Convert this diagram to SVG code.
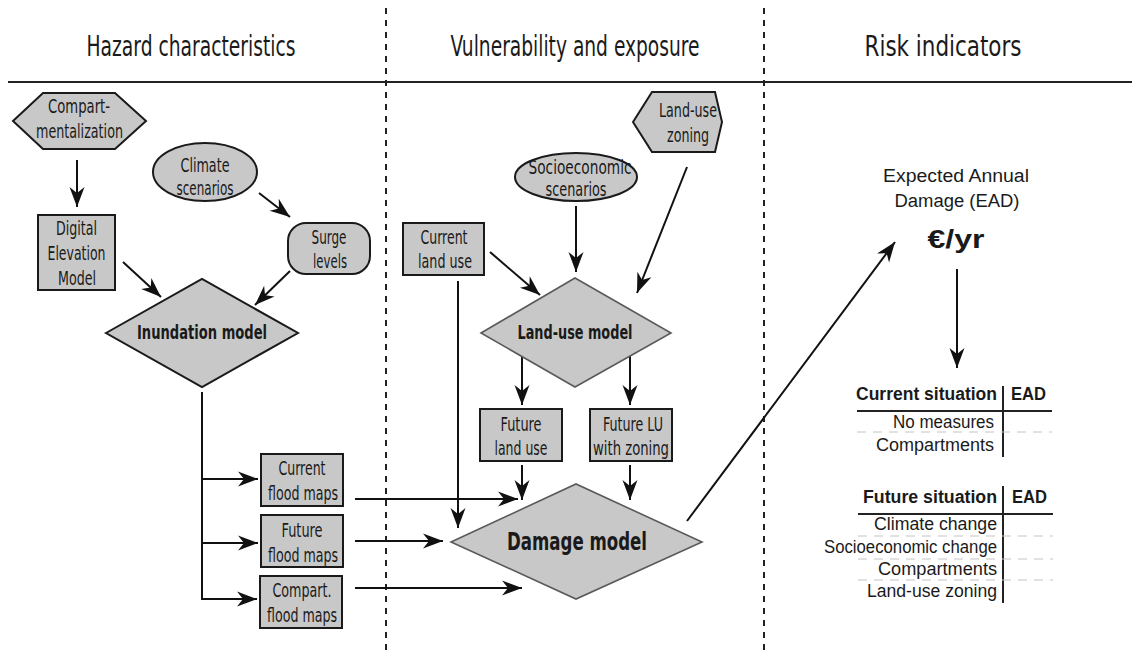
<svg xmlns="http://www.w3.org/2000/svg" width="1132" height="655" viewBox="0 0 1132 655">
<style>
.bg{fill:#ffffff}
.node{fill:#c8c8c8;stroke:#1a1a1a;stroke-width:2}
.dia{fill:#c8c8c8;stroke:#1a1a1a;stroke-width:2}
.dia2{fill:#c8c8c8;stroke:#5a5a5a;stroke-width:1.6}
.lbl{font-family:"Liberation Sans Narrow","DejaVu Sans Condensed","Liberation Sans",sans-serif;font-size:20px;fill:#1a1a1a;text-anchor:middle}
.bold{font-weight:bold}
.hdr{font-family:"Liberation Sans Narrow","DejaVu Sans Condensed","Liberation Sans",sans-serif;font-size:29px;fill:#1a1a1a;text-anchor:middle}
.reg{font-family:"Liberation Sans","Noto Sans",sans-serif;font-size:17.5px;fill:#1a1a1a}
.conn{stroke:#111;stroke-width:2;fill:none;marker-end:url(#ah)}
.plain{stroke:#111;stroke-width:2;fill:none}
.sep{stroke:#222;stroke-width:2;stroke-dasharray:6 6;fill:none}
.rule{stroke:#222;stroke-width:2;fill:none}
.tdash{stroke:#c4c4c4;stroke-width:1;stroke-dasharray:9 7;fill:none}
</style>
<defs>
<marker id="ah" markerUnits="userSpaceOnUse" markerWidth="22" markerHeight="16" refX="20" refY="7.5" orient="auto" overflow="visible">
<path d="M0,0 L20,7.5 L0,15 L6,7.5 Z" fill="#111"/>
</marker>
</defs>
<rect class="bg" x="0" y="0" width="1132" height="655"/>

<g id="layout">
<line class="rule" x1="8" y1="82" x2="1132" y2="82"/>
<line class="sep" x1="386" y1="8" x2="386" y2="655"/>
<line class="sep" x1="764" y1="8" x2="764" y2="655"/>
<text class="hdr" x="191" y="56" textLength="209" lengthAdjust="spacingAndGlyphs">Hazard characteristics</text>
<text class="hdr" x="575" y="56" textLength="249" lengthAdjust="spacingAndGlyphs">Vulnerability and exposure</text>
<text class="hdr" x="943" y="56" textLength="157" lengthAdjust="spacingAndGlyphs">Risk indicators</text>
</g>

<g id="connectors">
<line class="conn" x1="77" y1="160" x2="77" y2="207"/>
<line class="conn" x1="259" y1="193" x2="290" y2="217"/>
<line class="conn" x1="123" y1="262" x2="161" y2="297"/>
<line class="conn" x1="290" y1="271" x2="255" y2="305"/>
<line class="plain" x1="202" y1="392" x2="202" y2="600"/>
<line class="conn" x1="202" y1="479" x2="258" y2="479"/>
<line class="conn" x1="202" y1="543" x2="258" y2="543"/>
<line class="conn" x1="202" y1="599" x2="257" y2="599"/>
<line class="conn" x1="355" y1="499" x2="518" y2="499"/>
<line class="conn" x1="355" y1="541" x2="443" y2="541"/>
<line class="conn" x1="355" y1="588" x2="522" y2="588"/>
<line class="conn" x1="458" y1="281" x2="458" y2="528"/>
<line class="conn" x1="490" y1="252" x2="540" y2="295"/>
<line class="conn" x1="576" y1="206" x2="576" y2="272"/>
<line class="conn" x1="687" y1="167" x2="637" y2="293"/>
<line class="conn" x1="522" y1="355" x2="522" y2="405"/>
<line class="conn" x1="630" y1="355" x2="630" y2="405"/>
<line class="conn" x1="522" y1="465" x2="522" y2="500"/>
<line class="conn" x1="630" y1="465" x2="630" y2="500"/>
<line class="conn" x1="687" y1="521" x2="895" y2="242"/>
<line class="conn" x1="957" y1="269" x2="957" y2="368"/>
</g>

<g id="compartmentalization">
<polygon class="node" points="13,121 43,93 115,93 146,121 115,149 43,149"/>
<text class="lbl" x="79" y="113" textLength="62" lengthAdjust="spacingAndGlyphs">Compart-</text>
<text class="lbl" x="79.5" y="138" textLength="87" lengthAdjust="spacingAndGlyphs">mentalization</text>
</g>

<g id="climate-scenarios">
<ellipse class="node" cx="205" cy="172" rx="52" ry="29"/>
<text class="lbl" x="205" y="172" textLength="49" lengthAdjust="spacingAndGlyphs">Climate</text>
<text class="lbl" x="205" y="195" textLength="57" lengthAdjust="spacingAndGlyphs">scenarios</text>
</g>

<g id="dem">
<rect class="node" x="38" y="215" width="77" height="75"/>
<text class="lbl" x="76.5" y="235" textLength="41" lengthAdjust="spacingAndGlyphs">Digital</text>
<text class="lbl" x="76.5" y="260" textLength="58" lengthAdjust="spacingAndGlyphs">Elevation</text>
<text class="lbl" x="77" y="285" textLength="38" lengthAdjust="spacingAndGlyphs">Model</text>
</g>

<g id="surge-levels">
<rect class="node" x="288" y="223" width="82" height="51" rx="18" ry="18"/>
<text class="lbl" x="329" y="244" textLength="35" lengthAdjust="spacingAndGlyphs">Surge</text>
<text class="lbl" x="330" y="268" textLength="34" lengthAdjust="spacingAndGlyphs">levels</text>
</g>

<g id="inundation-model">
<polygon class="dia" points="106,333 202,279 298,333 202,387"/>
<text class="lbl bold" x="202" y="339" textLength="130" lengthAdjust="spacingAndGlyphs">Inundation model</text>
</g>

<g id="current-flood-maps">
<rect class="node" x="261" y="454" width="82" height="52"/>
<text class="lbl" x="302" y="475" textLength="47" lengthAdjust="spacingAndGlyphs">Current</text>
<text class="lbl" x="303" y="500" textLength="70" lengthAdjust="spacingAndGlyphs">flood maps</text>
</g>

<g id="future-flood-maps">
<rect class="node" x="261" y="515" width="82" height="52"/>
<text class="lbl" x="302" y="537" textLength="41" lengthAdjust="spacingAndGlyphs">Future</text>
<text class="lbl" x="303" y="562" textLength="70" lengthAdjust="spacingAndGlyphs">flood maps</text>
</g>

<g id="compart-flood-maps">
<rect class="node" x="260" y="576" width="82" height="52"/>
<text class="lbl" x="302" y="597" textLength="59" lengthAdjust="spacingAndGlyphs">Compart.</text>
<text class="lbl" x="302" y="622" textLength="70" lengthAdjust="spacingAndGlyphs">flood maps</text>
</g>

<g id="current-land-use">
<rect class="node" x="403" y="223" width="81" height="52"/>
<text class="lbl" x="444" y="244" textLength="47" lengthAdjust="spacingAndGlyphs">Current</text>
<text class="lbl" x="445" y="268" textLength="54" lengthAdjust="spacingAndGlyphs">land use</text>
</g>

<g id="socioeconomic-scenarios">
<ellipse class="node" cx="576" cy="177" rx="61" ry="24"/>
<text class="lbl" x="580" y="174" textLength="103" lengthAdjust="spacingAndGlyphs">Socioeconomic</text>
<text class="lbl" x="576" y="196" textLength="61" lengthAdjust="spacingAndGlyphs">scenarios</text>
</g>

<g id="land-use-zoning">
<polygon class="node" points="633,122 652,92 715,92 722,122 715,152 652,152"/>
<text class="lbl" x="688" y="117" textLength="58" lengthAdjust="spacingAndGlyphs">Land-use</text>
<text class="lbl" x="688" y="142" textLength="42" lengthAdjust="spacingAndGlyphs">zoning</text>
</g>

<g id="land-use-model">
<polygon class="dia2" points="481,333 575,278 671,333 575,387"/>
<text class="lbl bold" x="575" y="339" textLength="115" lengthAdjust="spacingAndGlyphs">Land-use model</text>
</g>

<g id="future-land-use">
<rect class="node" x="480" y="409" width="82" height="52"/>
<text class="lbl" x="521" y="431" textLength="41" lengthAdjust="spacingAndGlyphs">Future</text>
<text class="lbl" x="521" y="455" textLength="53" lengthAdjust="spacingAndGlyphs">land use</text>
</g>

<g id="future-lu-zoning">
<rect class="node" x="590" y="409" width="82" height="52"/>
<text class="lbl" x="633" y="431" textLength="60" lengthAdjust="spacingAndGlyphs">Future LU</text>
<text class="lbl" x="631" y="455" textLength="76" lengthAdjust="spacingAndGlyphs">with zoning</text>
</g>

<g id="damage-model">
<polygon class="dia2" points="451,542 576,484 702,542 576,599"/>
<text class="lbl bold" x="577" y="550" style="font-size:25px" textLength="140" lengthAdjust="spacingAndGlyphs">Damage model</text>
</g>

<g id="ead">
<text class="reg" x="956" y="182" text-anchor="middle" style="font-size:18px" textLength="146" lengthAdjust="spacingAndGlyphs">Expected Annual</text>
<text class="reg" x="957" y="207" text-anchor="middle" style="font-size:18px" textLength="125" lengthAdjust="spacingAndGlyphs">Damage (EAD)</text>
<text class="reg bold" x="956" y="248" text-anchor="middle" style="font-size:26px" textLength="57" lengthAdjust="spacingAndGlyphs">€/yr</text>
</g>

<g id="current-table">
<line class="rule" x1="1003" y1="386" x2="1003" y2="457"/>
<line class="rule" x1="857" y1="411" x2="1052" y2="411"/>
<line class="tdash" x1="857" y1="432" x2="1052" y2="432"/>
<text class="reg bold" x="997" y="400" text-anchor="end" textLength="141" lengthAdjust="spacingAndGlyphs">Current situation</text>
<text class="reg bold" x="1011" y="400" textLength="35" lengthAdjust="spacingAndGlyphs">EAD</text>
<text class="reg" x="994" y="428" text-anchor="end" textLength="101" lengthAdjust="spacingAndGlyphs">No measures</text>
<text class="reg" x="994" y="451" text-anchor="end" textLength="118" lengthAdjust="spacingAndGlyphs">Compartments</text>
</g>

<g id="future-table">
<line class="rule" x1="1003" y1="486" x2="1003" y2="603"/>
<line class="rule" x1="858" y1="514" x2="1053" y2="514"/>
<line class="tdash" x1="858" y1="536" x2="1053" y2="536"/>
<line class="tdash" x1="858" y1="559" x2="1053" y2="559"/>
<line class="tdash" x1="858" y1="580" x2="1053" y2="580"/>
<text class="reg bold" x="997" y="503" text-anchor="end" textLength="134" lengthAdjust="spacingAndGlyphs">Future situation</text>
<text class="reg bold" x="1012" y="503" textLength="35" lengthAdjust="spacingAndGlyphs">EAD</text>
<text class="reg" x="997" y="530" text-anchor="end" textLength="123" lengthAdjust="spacingAndGlyphs">Climate change</text>
<text class="reg" x="997" y="553" text-anchor="end" textLength="173" lengthAdjust="spacingAndGlyphs">Socioeconomic change</text>
<text class="reg" x="997" y="575" text-anchor="end" textLength="119" lengthAdjust="spacingAndGlyphs">Compartments</text>
<text class="reg" x="997" y="597" text-anchor="end" textLength="130" lengthAdjust="spacingAndGlyphs">Land-use zoning</text>
</g>
</svg>
